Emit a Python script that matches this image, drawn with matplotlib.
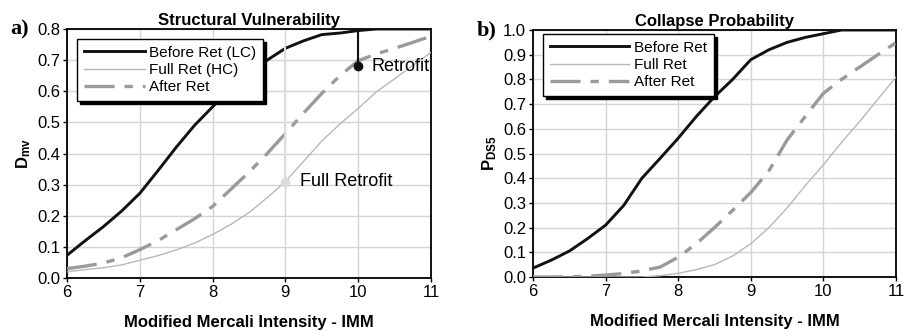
import matplotlib
matplotlib.use('Agg')
import matplotlib.pyplot as plt

plt.rcParams['font.family'] = ['Liberation Sans', 'DejaVu Sans']
plt.rcParams['mathtext.fontset'] = 'custom'
plt.rcParams['mathtext.rm'] = 'Liberation Sans'
plt.rcParams['mathtext.bf'] = 'Liberation Sans:bold'

# intensity values (IMM)
imm = [6, 6.25, 6.5, 6.75, 7, 7.25, 7.5, 7.75, 8, 8.25, 8.5, 8.75, 9, 9.25, 9.5, 9.75, 10, 10.25, 10.5, 10.75, 11]

# a) mean damage index
dmv_before = [0.073, 0.12, 0.165, 0.215, 0.272, 0.345, 0.42, 0.49, 0.55, 0.61, 0.655, 0.70, 0.738, 0.762, 0.782, 0.787, 0.795, 0.80, 0.80, 0.80, 0.80]
dmv_full = [0.02, 0.027, 0.033, 0.042, 0.057, 0.072, 0.09, 0.112, 0.14, 0.172, 0.21, 0.258, 0.31, 0.375, 0.44, 0.495, 0.545, 0.598, 0.64, 0.683, 0.725]
dmv_after = [0.03, 0.038, 0.048, 0.065, 0.091, 0.12, 0.155, 0.19, 0.23, 0.285, 0.34, 0.40, 0.464, 0.53, 0.593, 0.65, 0.698, 0.72, 0.738, 0.757, 0.777]

# b) collapse probability
p_before = [0.036, 0.068, 0.105, 0.155, 0.21, 0.29, 0.40, 0.48, 0.562, 0.65, 0.73, 0.80, 0.88, 0.92, 0.95, 0.97, 0.985, 1.0, 1.0, 1.0, 1.0]
p_full = [0.0, 0.0, 0.0, 0.0, 0.0, 0.0, 0.0, 0.005, 0.015, 0.03, 0.05, 0.085, 0.135, 0.2, 0.28, 0.37, 0.454, 0.545, 0.63, 0.72, 0.809]
p_after = [0.0, 0.0, 0.001, 0.003, 0.008, 0.014, 0.025, 0.04, 0.08, 0.135, 0.2, 0.27, 0.342, 0.43, 0.555, 0.65, 0.744, 0.80, 0.85, 0.90, 0.949]

xticks = [6, 7, 8, 9, 10, 11]

fig = plt.figure(figsize=(9.06, 3.31), dpi=100)
ax1 = fig.add_axes([67/906, 1 - 278/331, 364/906, 249/331])
ax2 = fig.add_axes([533/906, 1 - 277/331, 363/906, 247/331])

dash_style = (0, (9, 3, 2.5, 3))


def style_axes(ax, ymax, title, ylabel, tag):
    n = int(round(ymax * 10))
    ax.set_xlim(6, 11)
    ax.set_ylim(0, ymax)
    ax.set_xticks(xticks)
    ax.set_yticks([i / 10 for i in range(n + 1)])
    ax.set_yticklabels(['%.1f' % (i / 10) for i in range(n + 1)])
    ax.grid(True, color='#d4d4d4', linewidth=1.0)
    ax.set_axisbelow(True)
    for s in ax.spines.values():
        s.set_linewidth(1.3)
    ax.tick_params(labelsize=12, length=3, width=1, pad=2)
    ax.set_title(title, fontsize=12, fontweight='bold', pad=3)
    ax.set_xlabel('Modified Mercali Intensity - IMM', fontsize=12, fontweight='bold', labelpad=11)
    ax.set_ylabel(ylabel, fontsize=12, fontweight='bold', labelpad=3)
    ax.text(-0.155, 1.0, tag, transform=ax.transAxes, fontsize=16, fontweight='bold',
            family='Liberation Serif', ha='left', va='center')


# left panel
ax1.plot(imm, dmv_before, color='#111111', lw=2.1, label='Before Ret (LC)', zorder=3)
ax1.plot(imm, dmv_full, color='#b8b8b8', lw=1.0, label='Full Ret (HC)', zorder=3)
ax1.plot(imm, dmv_after, color='#9a9a9a', lw=2.4, linestyle=dash_style, label='After Ret', zorder=3)
ax1.plot([10, 10], [0.795, 0.68], color='#111111', lw=1.5, zorder=4)
ax1.plot([10], [0.68], 'o', color='#111111', ms=6, zorder=5)
ax1.text(10.18, 0.68, 'Retrofit', fontsize=13, va='center')
ax1.plot([9, 9], [0.738, 0.31], color='#dcdcdc', lw=1.5, zorder=4)
ax1.plot([9], [0.31], 'o', color='#dcdcdc', ms=6, zorder=5)
ax1.text(9.2, 0.31, 'Full Retrofit', fontsize=13, va='center')
style_axes(ax1, 0.8, 'Structural Vulnerability', r'$\mathbf{D_{mv}}$', 'a)')

# right panel
ax2.plot(imm, p_before, color='#111111', lw=2.1, label='Before Ret', zorder=3)
ax2.plot(imm, p_full, color='#b8b8b8', lw=1.0, label='Full Ret', zorder=3)
ax2.plot(imm, p_after, color='#9a9a9a', lw=2.4, linestyle=dash_style, label='After Ret', zorder=3)
style_axes(ax2, 1.0, 'Collapse Probability', r'$\mathbf{P_{DS5}}$', 'b)')

for ax, anchor, hl in ((ax1, (0.027, 0.96), 4.0), (ax2, (0.028, 0.984), 5.2)):
    leg = ax.legend(loc='upper left', bbox_to_anchor=anchor, borderaxespad=0, fontsize=11,
                    handlelength=hl, handletextpad=0.3, labelspacing=0.2, borderpad=0.45,
                    fancybox=False, framealpha=1, edgecolor='black',
                    shadow={'color': 'black', 'alpha': 1})
    leg.get_frame().set_linewidth(1.0)
    leg.set_zorder(10)

fig.savefig('out.png', dpi=100)
